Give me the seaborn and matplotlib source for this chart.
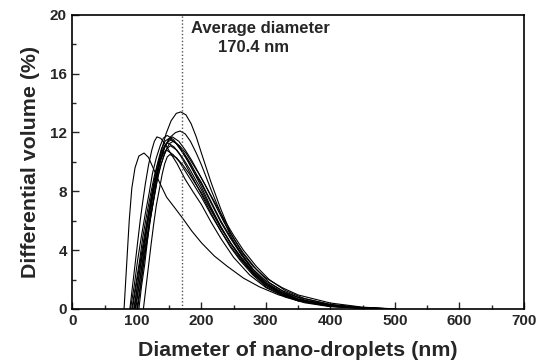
import matplotlib
matplotlib.use('Agg')
import matplotlib.pyplot as plt
from matplotlib.ticker import MultipleLocator
import pandas as pd
import seaborn as sns

# size distributions (diameter nm, differential volume %)
d_a = [80, 84, 88, 92, 97, 103, 111, 118, 125, 135, 146, 160, 172, 185, 200, 220, 240, 265, 290, 320, 350, 400, 450, 480]
v_a = [0, 3.0, 6.0, 8.2, 9.6, 10.4, 10.6, 10.3, 9.6, 8.6, 7.6, 6.8, 6.1, 5.3, 4.5, 3.6, 2.9, 2.1, 1.5, 0.95, 0.6, 0.25, 0.08, 0]

d_b = [101, 106, 112, 118, 124, 130, 137, 145, 153, 161, 168, 176, 184, 192, 200, 215, 230, 245, 262, 280, 300, 325, 350, 400, 450, 500]
v_b = [0, 1.6, 3.6, 5.6, 7.5, 9.1, 10.6, 11.9, 12.8, 13.3, 13.4, 13.2, 12.6, 11.7, 10.6, 8.6, 6.8, 5.2, 3.9, 2.9, 2.1, 1.45, 0.95, 0.4, 0.12, 0]

d_c = [98, 103, 109, 115, 121, 128, 136, 144, 152, 160, 167, 175, 183, 192, 200, 215, 230, 245, 262, 280, 300, 325, 350, 400, 450, 500]
v_c = [0, 1.5, 3.4, 5.3, 7.0, 8.7, 10.1, 11.1, 11.7, 12.0, 12.1, 11.9, 11.4, 10.6, 9.8, 8.1, 6.5, 5.0, 3.7, 2.7, 1.9, 1.25, 0.8, 0.3, 0.08, 0]

d_d = [89, 93, 97, 101, 105, 109, 113, 118, 123, 127, 131, 137, 144, 152, 162, 175, 188, 200, 215, 230, 250, 275, 300, 330, 360, 400, 450, 490]
v_d = [0, 1.5, 3.0, 4.5, 6.0, 7.3, 8.5, 9.8, 10.8, 11.4, 11.7, 11.6, 11.2, 10.6, 9.9, 8.8, 7.9, 7.1, 5.9, 4.8, 3.5, 2.3, 1.45, 0.8, 0.42, 0.15, 0.04, 0]

d_e = [90, 96, 101, 107, 113, 119, 124, 130, 136, 141, 147, 157, 167, 177, 187, 200, 215, 230, 245, 260, 280, 300, 325, 350, 400, 450, 495]
v_e = [0, 1.65, 3.3, 4.96, 6.49, 7.9, 9.2, 10.27, 11.09, 11.62, 11.8, 11.5, 10.9, 10.2, 9.4, 8.3, 6.9, 5.6, 4.5, 3.5, 2.4, 1.6, 1.0, 0.55, 0.18, 0.05, 0]

d_f = [92, 98, 104, 109, 115, 121, 127, 133, 138, 144, 150, 160, 170, 180, 190, 200, 215, 230, 245, 260, 280, 300, 325, 350, 400, 450, 500]
v_f = [0, 1.62, 3.25, 4.87, 6.38, 7.77, 9.05, 10.09, 10.9, 11.43, 11.6, 11.3, 10.7, 10.0, 9.2, 8.5, 7.2, 5.9, 4.8, 3.8, 2.6, 1.75, 1.1, 0.65, 0.22, 0.06, 0]

d_g = [93, 99, 105, 111, 117, 123, 129, 135, 141, 147, 153, 163, 173, 183, 193, 200, 215, 230, 245, 260, 280, 300, 325, 350, 400, 450, 500]
v_g = [0, 1.61, 3.22, 4.83, 6.33, 7.71, 8.97, 10.0, 10.81, 11.33, 11.5, 11.2, 10.6, 9.9, 9.1, 8.6, 7.3, 6.0, 4.9, 3.9, 2.7, 1.8, 1.15, 0.68, 0.24, 0.06, 0]

d_h = [95, 101, 107, 113, 119, 125, 131, 137, 143, 149, 155, 165, 175, 185, 195, 205, 220, 235, 250, 265, 285, 305, 330, 360, 400, 450, 500]
v_h = [0, 1.64, 3.28, 4.91, 6.44, 7.84, 9.13, 10.18, 11.0, 11.52, 11.7, 11.4, 10.8, 10.1, 9.3, 8.5, 7.2, 5.9, 4.8, 3.8, 2.7, 1.8, 1.1, 0.6, 0.26, 0.07, 0]

d_i = [96, 101, 106, 112, 117, 122, 127, 132, 138, 143, 148, 158, 168, 178, 188, 200, 215, 230, 245, 260, 280, 300, 325, 350, 400, 450, 490]
v_i = [0, 1.58, 3.16, 4.75, 6.22, 7.57, 8.81, 9.83, 10.62, 11.13, 11.3, 11.0, 10.4, 9.6, 8.8, 7.8, 6.5, 5.3, 4.2, 3.3, 2.3, 1.5, 0.95, 0.55, 0.18, 0.04, 0]

d_j = [97, 103, 109, 115, 121, 127, 132, 138, 144, 150, 156, 166, 176, 186, 196, 205, 220, 235, 250, 265, 285, 305, 330, 360, 400, 450, 500]
v_j = [0, 1.6, 3.19, 4.79, 6.27, 7.64, 8.89, 9.92, 10.72, 11.23, 11.4, 11.1, 10.6, 9.9, 9.2, 8.5, 7.3, 6.1, 5.0, 4.0, 2.9, 2.0, 1.25, 0.7, 0.3, 0.08, 0]

d_k = [100, 105, 110, 116, 121, 126, 131, 136, 142, 147, 152, 162, 172, 182, 192, 200, 215, 230, 245, 260, 280, 300, 325, 350, 400, 450, 500]
v_k = [0, 1.55, 3.11, 4.66, 6.11, 7.44, 8.66, 9.66, 10.43, 10.93, 11.1, 10.8, 10.2, 9.5, 8.7, 8.1, 6.8, 5.6, 4.5, 3.6, 2.5, 1.7, 1.05, 0.62, 0.2, 0.05, 0]

d_l = [103, 107, 112, 116, 120, 125, 129, 133, 137, 142, 146, 156, 166, 176, 186, 200, 215, 230, 245, 260, 280, 300, 325, 350, 400, 450, 495]
v_l = [0, 1.51, 3.02, 4.54, 5.94, 7.24, 8.42, 9.4, 10.15, 10.64, 10.8, 10.5, 10.0, 9.3, 8.6, 7.6, 6.4, 5.3, 4.3, 3.4, 2.4, 1.6, 1.0, 0.58, 0.19, 0.05, 0]

d_m = [110, 114, 118, 122, 126, 130, 135, 139, 143, 147, 151, 161, 171, 181, 191, 200, 215, 230, 245, 260, 280, 300, 325, 350, 400, 450, 500]
v_m = [0, 1.47, 2.94, 4.41, 5.78, 7.04, 8.19, 9.14, 9.87, 10.34, 10.5, 10.3, 9.8, 9.2, 8.5, 7.9, 6.7, 5.5, 4.5, 3.6, 2.5, 1.7, 1.05, 0.6, 0.2, 0.05, 0]

avg_diameter = 170.4

runs = {'a': (d_a, v_a), 'b': (d_b, v_b), 'c': (d_c, v_c), 'd': (d_d, v_d),
        'e': (d_e, v_e), 'f': (d_f, v_f), 'g': (d_g, v_g), 'h': (d_h, v_h),
        'i': (d_i, v_i), 'j': (d_j, v_j), 'k': (d_k, v_k), 'l': (d_l, v_l),
        'm': (d_m, v_m)}

rows = []
for name, (dd, vv) in runs.items():
    for x, y in zip(dd, vv):
        rows.append({'run': name, 'diameter': x, 'volume': y})
df = pd.DataFrame(rows)

sns.set_style('ticks')
plt.rcParams['font.family'] = ['Liberation Sans', 'DejaVu Sans']
plt.rcParams['font.weight'] = 'bold'

fig = plt.figure(figsize=(5.45, 3.63), dpi=100)
ax = fig.add_axes([0.133, 0.149, 0.828, 0.810])

sns.lineplot(data=df, x='diameter', y='volume', units='run', estimator=None,
             sort=False, color='black', linewidth=0.8, ax=ax)

ax.axvline(avg_diameter, color='#555555', linestyle=(0, (1, 1.5)), linewidth=1.0)
ax.text(184, 19.05, 'Average diameter', fontsize=12, fontweight='bold', va='center', ha='left')
ax.text(225, 17.75, '170.4 nm', fontsize=12, fontweight='bold', va='center', ha='left')

ax.set_xlim(0, 700)
ax.set_ylim(0, 20)
ax.xaxis.set_major_locator(MultipleLocator(100))
ax.xaxis.set_minor_locator(MultipleLocator(50))
ax.yaxis.set_major_locator(MultipleLocator(4))
ax.yaxis.set_minor_locator(MultipleLocator(2))
ax.tick_params(which='both', direction='in', top=False, right=False)
ax.tick_params(which='major', length=5, width=1, labelsize=11, pad=4)
ax.tick_params(which='minor', length=3, width=1)
for lab in ax.get_xticklabels() + ax.get_yticklabels():
    lab.set_fontweight('bold')
for sp in ax.spines.values():
    sp.set_linewidth(1.2)
    sp.set_color('black')

ax.set_xlabel('Diameter of nano-droplets (nm)', fontsize=15.4, fontweight='bold', labelpad=9)
ax.set_ylabel('Differential volume (%)', fontsize=15.4, fontweight='bold', labelpad=7)

fig.savefig('out.png', dpi=100)
